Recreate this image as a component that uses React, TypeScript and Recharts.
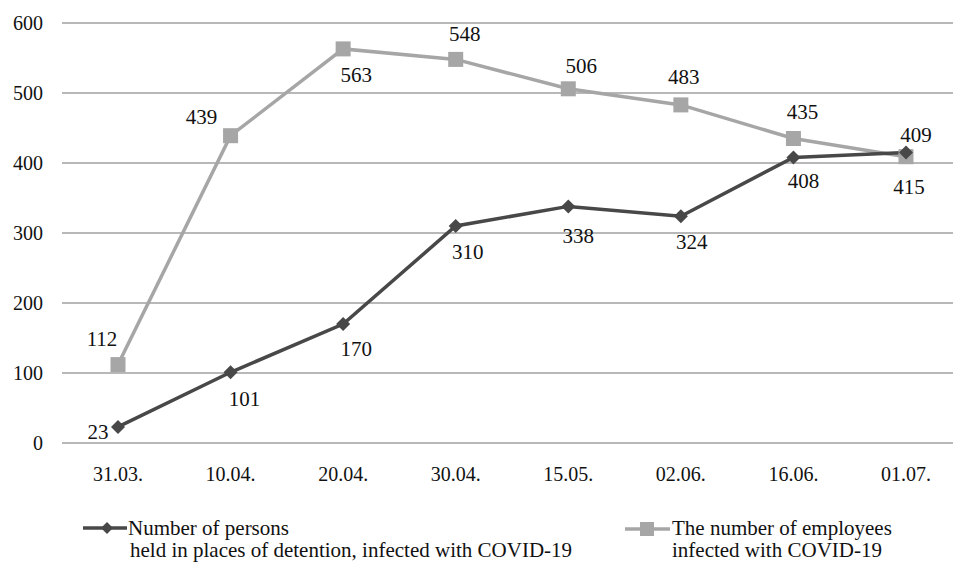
import { LineChart, Line, XAxis, YAxis, CartesianGrid, LabelList } from "recharts";

const dates = ["31.03.", "10.04.", "20.04.", "30.04.", "15.05.", "02.06.", "16.06.", "01.07."];
const persons = [23, 101, 170, 310, 338, 324, 408, 415];
const employees = [112, 439, 563, 548, 506, 483, 435, 409];
const yTicks = [0, 100, 200, 300, 400, 500, 600];

// label offsets from each point (layout only)
const personsLabelDx = [-20, 14, 13, 12, 10, 11, 10, 3];
const personsLabelDy = [5, 27, 25, 26, 30, 26, 24, 34];
const employeesLabelDx = [-16, -29, 13, 9, 13, 3, 9, 10];
const employeesLabelDy = [-26, -19, 26, -25, -23, -28, -27, -22];

const data = dates.map((d, i) => ({ date: d, persons: persons[i], employees: employees[i] }));

const DARK = "#484848";
const LIGHT = "#a6a6a6";
const FONT = "'Liberation Serif', 'Times New Roman', serif";

function Diamond(props: any) {
  const { cx, cy, index } = props;
  if (cx == null || cy == null) return null;
  const r = 7;
  return (
    <path
      key={`d-${index}`}
      d={`M${cx},${cy - r} L${cx + r},${cy} L${cx},${cy + r} L${cx - r},${cy} Z`}
      fill={DARK}
    />
  );
}

function Square(props: any) {
  const { cx, cy, index } = props;
  if (cx == null || cy == null) return null;
  const s = 15;
  return <rect key={`s-${index}`} x={cx - s / 2} y={cy - s / 2} width={s} height={s} fill={LIGHT} />;
}

function makeLabel(dxs: number[], dys: number[]) {
  return (props: any) => {
    const { x, y, value, index } = props;
    return (
      <text
        x={x + dxs[index]}
        y={y + dys[index]}
        textAnchor="middle"
        dominantBaseline="central"
        fontFamily={FONT}
        fontSize={21}
        fill="#111"
      >
        {value}
      </text>
    );
  };
}

export default function App() {
  return (
    <div style={{ position: "absolute", left: 0, top: 0, width: 953, height: 563, background: "#fff", overflow: "hidden" }}>
      <LineChart width={953} height={563} data={data} margin={{ top: 23, right: 0, left: 0, bottom: 80 }}>
        <CartesianGrid vertical={false} stroke="#a0a0a0" strokeWidth={1.5} />
        <XAxis
          dataKey="date"
          axisLine={false}
          tickLine={false}
          tickSize={0}
          tickMargin={24}
          height={40}
          padding={{ left: 56, right: 47 }}
          tick={{ fontFamily: FONT, fontSize: 20, fill: "#111" }}
          interval={0}
        />
        <YAxis
          domain={[0, 600]}
          ticks={yTicks}
          width={62}
          axisLine={false}
          tickLine={false}
          tickSize={0}
          tickMargin={19}
          tick={{ fontFamily: FONT, fontSize: 20, fill: "#111" }}
        />
        <Line
          dataKey="employees"
          stroke={LIGHT}
          strokeWidth={3.5}
          dot={<Square />}
          activeDot={false}
          isAnimationActive={false}
        >
          <LabelList dataKey="employees" content={makeLabel(employeesLabelDx, employeesLabelDy)} />
        </Line>
        <Line
          dataKey="persons"
          stroke={DARK}
          strokeWidth={3.5}
          dot={<Diamond />}
          activeDot={false}
          isAnimationActive={false}
        >
          <LabelList dataKey="persons" content={makeLabel(personsLabelDx, personsLabelDy)} />
        </Line>
      </LineChart>
      <svg width={953} height={563} style={{ position: "absolute", left: 0, top: 0, pointerEvents: "none" }}>
        <line x1={83} x2={127} y1={528} y2={528} stroke={DARK} strokeWidth={3.5} />
        <path d="M107,522 L113,528 L107,534 L101,528 Z" fill={DARK} />
        <text x={128} y={535} fontFamily={FONT} fontSize={21} fill="#111">Number of persons</text>
        <text x={130} y={557} fontFamily={FONT} fontSize={21} fill="#111">
          held in places of detention, infected with COVID-19
        </text>
        <line x1={625} x2={670} y1={529} y2={529} stroke={LIGHT} strokeWidth={3.5} />
        <rect x={640} y={522} width={14} height={14} fill={LIGHT} />
        <text x={672} y={535} fontFamily={FONT} fontSize={21} fill="#111">The number of employees</text>
        <text x={672} y={557} fontFamily={FONT} fontSize={21} fill="#111">infected with COVID-19</text>
      </svg>
    </div>
  );
}
